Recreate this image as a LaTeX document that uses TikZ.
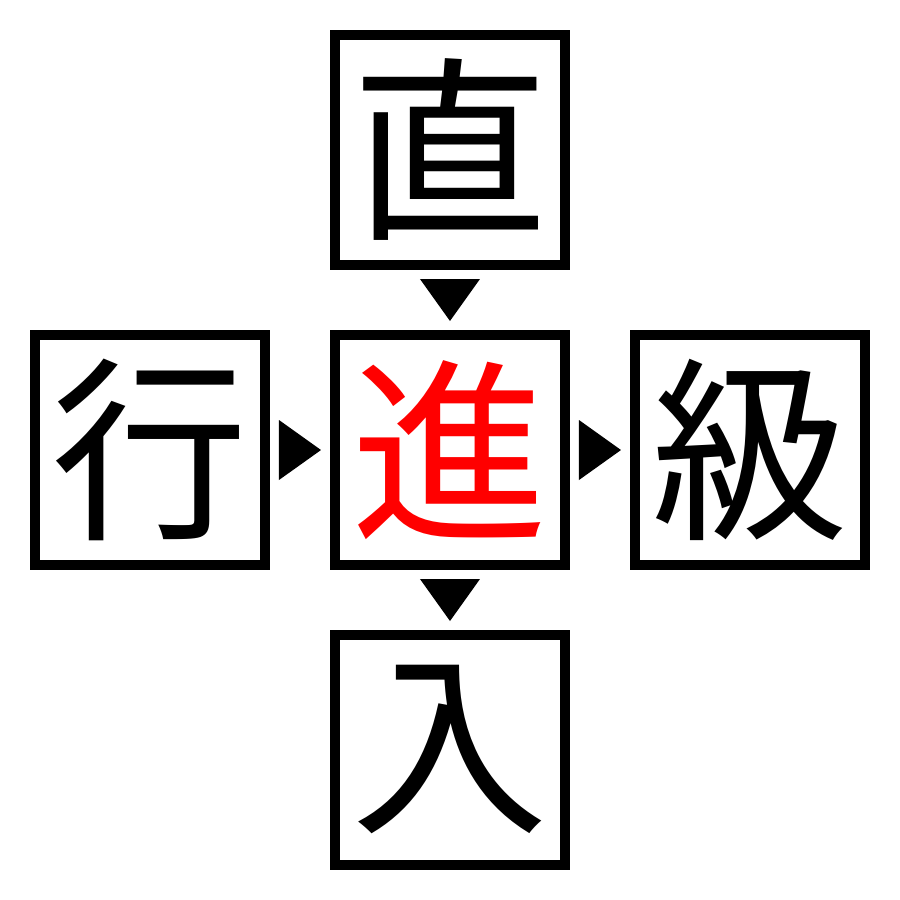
\documentclass[tikz,border=0pt]{standalone}
\usepackage{fontspec}
\newfontfamily\cjk{Noto Sans CJK JP}
\usetikzlibrary{positioning,calc}
\tikzset{
  kanji/.style={shape=rectangle,draw=black,line width=0.1cm,minimum size=2.3cm,
    inner sep=0pt,font=\cjk\fontsize{56}{56}\selectfont},
  pointer/.style={fill=black}
}
\begin{document}
\begin{tikzpicture}[node distance=0.6cm]
  \useasboundingbox (-4.5,-4.5) rectangle (4.5,4.5);
  \node[kanji,text=red] (shin) at (0,0) {進};
  \node[kanji,above=of shin] (choku) {直};
  \node[kanji,left=of shin] (gyou) {行};
  \node[kanji,right=of shin] (kyuu) {級};
  \node[kanji,below=of shin] (nyuu) {入};
  % triangles between the boxes
  \fill[pointer] ($(choku.south)!0.5!(shin.north)$) +(-0.3,0.21) -- +(0.3,0.21) -- +(0,-0.21) -- cycle;
  \fill[pointer] ($(shin.south)!0.5!(nyuu.north)$) +(-0.3,0.21) -- +(0.3,0.21) -- +(0,-0.21) -- cycle;
  \fill[pointer] ($(gyou.east)!0.5!(shin.west)$) +(-0.21,0.3) -- +(-0.21,-0.3) -- +(0.21,0) -- cycle;
  \fill[pointer] ($(shin.east)!0.5!(kyuu.west)$) +(-0.21,0.3) -- +(-0.21,-0.3) -- +(0.21,0) -- cycle;
\end{tikzpicture}
\end{document}
